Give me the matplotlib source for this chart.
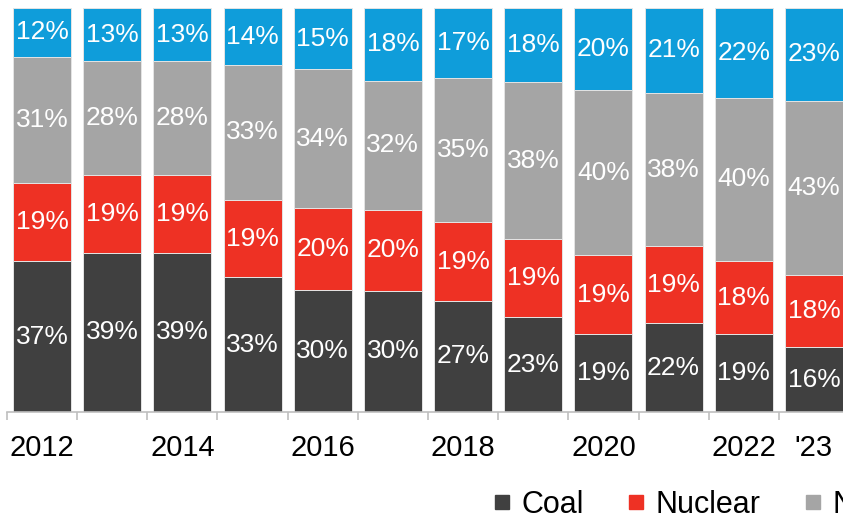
import matplotlib
matplotlib.use("Agg")
import matplotlib.pyplot as plt
from matplotlib.lines import Line2D
import numpy as np

plt.rcParams['font.family'] = ['Liberation Sans', 'DejaVu Sans']

years = ["2012", "2013", "2014", "2015", "2016", "2017", "2018", "2019", "2020", "2021", "2022", "'23"]
coal = [37, 39, 39, 33, 30, 30, 27, 23, 19, 22, 19, 16]
nuclear = [19, 19, 19, 19, 20, 20, 19, 19, 19, 19, 18, 18]
gas = [31, 28, 28, 33, 34, 32, 35, 38, 40, 38, 40, 43]
renewables = [12, 13, 13, 14, 15, 18, 17, 18, 20, 21, 22, 23]
shown_labels = ["2012", "", "2014", "", "2016", "", "2018", "", "2020", "", "2022", "'23"]

series = [("Coal", coal, "#404040"),
          ("Nuclear", nuclear, "#EE3124"),
          ("Natural gas", gas, "#A5A5A5"),
          ("Renewables", renewables, "#0F9DDA")]

fig = plt.figure(figsize=(8.43, 5.20), dpi=100)
ax = fig.add_axes([7 / 843, 108 / 520, 842 / 843, 404 / 520])

x = np.arange(len(years))
totals = np.sum([s[1] for s in series], axis=0)
bottom = np.zeros(len(years))
for name, vals, col in series:
    share = np.array(vals) / totals * 100
    ax.bar(x, share, width=0.826, bottom=bottom, color=col,
           edgecolor="#e4e4e4", linewidth=0.7)
    for xi, b, h, v in zip(x, bottom, share, vals):
        ax.text(xi, b + h / 2, f"{v}%", ha="center", va="center",
                color="white", fontsize=19)
    bottom += share

ax.set_xlim(-0.5, len(years) - 0.5)
ax.set_ylim(0, 100)
ax.set_yticks([])
for s in ["top", "right", "left"]:
    ax.spines[s].set_visible(False)
ax.spines["bottom"].set_color("#BFBFBF")
ax.spines["bottom"].set_linewidth(1.2)

ax.set_xticks(x)
ax.set_xticklabels(shown_labels, fontsize=21, color="black")
ax.tick_params(axis="x", which="major", length=0, pad=16)
ax.set_xticks(np.arange(-0.5, len(years)), minor=True)
ax.tick_params(axis="x", which="minor", length=6, width=1.2, color="#BFBFBF")

handles = [Line2D([], [], marker="s", linestyle="none", markersize=10.5,
                  markerfacecolor=col, markeredgecolor=col) for _, _, col in series]
fig.legend(handles, [s[0] for s in series], loc="center left",
           bbox_to_anchor=(491 / 843, 15 / 520), ncol=4, frameon=False,
           fontsize=22, handlelength=0.7, handletextpad=0.3,
           columnspacing=1.35, borderpad=0, borderaxespad=0)

fig.savefig("out.png", dpi=100)
